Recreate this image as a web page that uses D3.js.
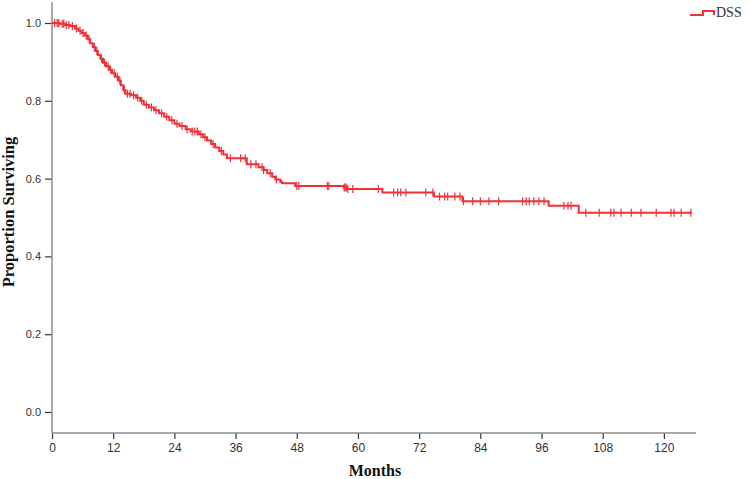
<!DOCTYPE html>
<html><head><meta charset="utf-8">
<script src="https://cdn.jsdelivr.net/npm/d3@7"></script>
<style>body{margin:0;background:#fff}svg{display:block}</style>
</head><body><svg id="c" width="750" height="479"></svg>
<script>
// Kaplan-Meier step points (months, proportion surviving)
const stepMonths = [0,1.5,2.5,3.5,4.5,5.2,5.8,6.4,7.0,7.5,8.0,8.5,9.0,9.5,10.0,10.6,11.2,11.8,12.4,13.0,13.5,14.0,14.4,15.5,16.5,17.3,18.0,19.0,20.0,21.0,22.0,23.0,24.0,25.0,26.2,27.2,28.8,29.6,30.4,31.2,32.0,32.8,33.6,34.3,38.2,40.5,41.5,42.2,43.2,43.8,44.8,45.1,47.7,57.2,57.9,64.8,74.9,80.5,97.4,103.3,125.5];
const stepSurv = [1.000,0.998,0.995,0.992,0.986,0.980,0.974,0.968,0.958,0.948,0.938,0.928,0.918,0.908,0.898,0.889,0.880,0.871,0.862,0.852,0.840,0.828,0.818,0.814,0.808,0.800,0.790,0.783,0.776,0.768,0.759,0.750,0.741,0.735,0.727,0.721,0.714,0.706,0.698,0.689,0.680,0.671,0.662,0.652,0.637,0.629,0.622,0.614,0.605,0.598,0.592,0.588,0.581,0.577,0.573,0.564,0.554,0.542,0.530,0.512,0.512];
// Censored observation times (months)
const censorMonths = [0.5,1.0,1.3,2.0,2.3,2.8,3.3,4.0,4.8,5.5,6.1,6.7,7.3,8.3,8.8,9.7,10.3,11.0,11.5,12.2,12.8,13.3,14.2,14.8,15.3,16.0,16.8,17.6,18.5,19.5,20.4,21.5,22.5,23.5,24.5,25.5,26.5,27.5,28.0,28.5,29.2,30.0,31.6,33.2,35.0,37.0,37.9,39.0,40.0,41.2,41.5,42.8,44.0,48.0,48.4,54.0,54.3,57.3,57.5,57.7,58.0,59.0,64.0,67.0,67.8,68.4,69.4,73.3,74.7,76.0,77.0,77.6,79.0,80.0,80.7,82.5,84.0,85.7,87.6,92.3,93.0,93.6,94.5,95.5,96.5,100.4,101.2,101.8,104.7,107.3,109.6,110.2,111.6,113.6,115.5,118.5,121.4,122.0,123.4,125.3];
const xTicks = [0,12,24,36,48,60,72,84,96,108,120];
const yTicks = [0.0,0.2,0.4,0.6,0.8,1.0];
const seriesName = "DSS";

const red = "#ee3138";
const svg = d3.select("#c");
const x = d3.scaleLinear().domain([0,126.3]).range([52,696]);
const y = d3.scaleLinear().domain([-0.054,1.054]).range([433,2]);

// axes
const axisCol = "#8c8c8c";
const gx = svg.append("g").attr("transform","translate(0,433)")
  .call(d3.axisBottom(x).tickValues(xTicks).tickSize(6).tickPadding(4).tickFormat(d3.format("d")));
gx.select(".domain").remove();
svg.append("line").attr("x1",52).attr("x2",696).attr("y1",433).attr("y2",433).attr("stroke",axisCol).attr("stroke-width",1.5);
gx.selectAll(".tick line").attr("stroke","#333").attr("stroke-width",1.2);
gx.selectAll(".tick text").attr("fill","#333").style("font-family","'Liberation Sans Narrow','Arial Narrow',sans-serif").style("font-size","12px");

const gy = svg.append("g").attr("transform","translate(52,0)")
  .call(d3.axisLeft(y).tickValues(yTicks).tickSize(7).tickPadding(4).tickFormat(d3.format(".1f")));
gy.select(".domain").remove();
svg.append("line").attr("x1",52).attr("x2",52).attr("y1",2).attr("y2",433).attr("stroke",axisCol).attr("stroke-width",1.5);
gy.selectAll(".tick line").attr("stroke","#333").attr("stroke-width",1.2);
gy.selectAll(".tick text").attr("fill","#333").style("font-family","'Liberation Sans',Arial,sans-serif").style("font-size","11px");

// curve
const pts = stepMonths.map((m,i)=>[m,stepSurv[i]]);
const line = d3.line().x(d=>x(d[0])).y(d=>y(d[1])).curve(d3.curveStepAfter);
svg.append("path").attr("d",line(pts)).attr("fill","none").attr("stroke",red).attr("stroke-width",2);

function survAt(t){let s=stepSurv[0];for(let i=0;i<stepMonths.length;i++){if(stepMonths[i]<=t)s=stepSurv[i];}return s;}
svg.append("g").selectAll("line").data(censorMonths).join("line")
  .attr("x1",d=>x(d)).attr("x2",d=>x(d))
  .attr("y1",d=>y(survAt(d))-4).attr("y2",d=>y(survAt(d))+4)
  .attr("stroke",red).attr("stroke-width",1.2);

// titles
svg.append("text").attr("x",375).attr("y",476).attr("text-anchor","middle")
  .style("font-family","'Liberation Serif','Times New Roman',serif").style("font-weight","bold").style("font-size","16px").attr("fill","#111").text("Months");
svg.append("text").attr("transform","translate(14,212) rotate(-90)").attr("text-anchor","middle")
  .style("font-family","'Liberation Serif','Times New Roman',serif").style("font-weight","bold").style("font-size","16.5px").attr("fill","#111").text("Proportion Surviving");

// legend
svg.append("path").attr("d","M690,15H703V11H714V15").attr("fill","none").attr("stroke",red).attr("stroke-width",2);
svg.append("text").attr("x",716).attr("y",17)
  .style("font-family","'Liberation Serif','Times New Roman',serif").style("font-size","14px").attr("fill","#333").text(seriesName);
</script></body></html>
